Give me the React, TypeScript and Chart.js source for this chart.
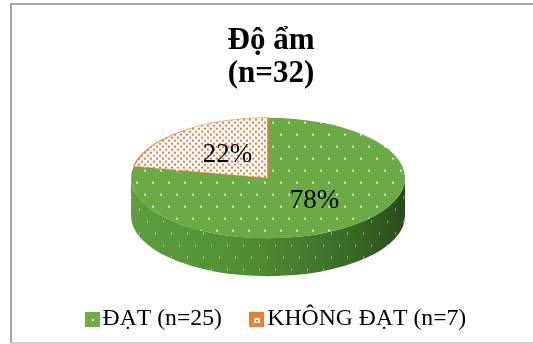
import React, { useEffect, useRef } from 'react';
import { Chart, registerables } from 'chart.js';

Chart.register(...registerables);

// ---- data ----
const titleLines = ['Độ ẩm', '(n=32)'];
const categories = ['ĐẠT (n=25)', 'KHÔNG ĐẠT (n=7)'];
const counts = [25, 7];

// ---- style ----
const FONT = '"Liberation Serif", "Times New Roman", "DejaVu Serif", serif';
const TILT = 0.44; // vertical squash of the pie top face
const DEPTH = 38; // thickness of the 3D wall
const PIE_X = 268;
const PIE_Y = 178;
const RADIUS = 137;
const GREEN = '#6BAA45';
const ORANGE = '#ED7D31';
const legendColors = ['#70AD47', '#ED7D31'];
const LEGEND_BOX = 15;
const LEGEND_BOX_SHIFT = 9; // pulls the swatch close to its text

function makePattern(
  ctx: CanvasRenderingContext2D,
  bg: string,
  dot: string,
  w: number,
  h: number,
  dots: number[][],
  scaleY: number
) {
  const c = document.createElement('canvas');
  c.width = w;
  c.height = h;
  const g = c.getContext('2d')!;
  g.fillStyle = bg;
  g.fillRect(0, 0, w, h);
  g.fillStyle = dot;
  for (const [x, y, dw, dh] of dots) g.fillRect(x, y, dw, dh);
  const p = ctx.createPattern(c, 'repeat')!;
  p.setTransform(new DOMMatrix().scale(1, scaleY));
  return p;
}

const frame = {
  id: 'frame',
  beforeDraw(chart: any) {
    const ctx: CanvasRenderingContext2D = chart.ctx;
    ctx.save();
    ctx.fillStyle = '#a3a3a3';
    ctx.fillRect(10, 3, chart.width - 10, 2);
    ctx.fillRect(10, 3, 2, chart.height - 3);
    ctx.fillStyle = '#cfcfcf';
    ctx.fillRect(10, chart.height - 2, chart.width - 10, 2);
    ctx.restore();
  },
};

const pie3d = {
  id: 'pie3d',
  beforeDatasetsDraw(chart: any) {
    const meta = chart.getDatasetMeta(0);
    const arcs = meta.data;
    const ctx: CanvasRenderingContext2D = chart.ctx;
    ctx.save();
    if (!arcs.length) return;
    const a0 = arcs[0];
    const cx = a0.x;
    const cy = a0.y;
    const rx = a0.outerRadius;
    const ry = rx * TILT;
    // side wall (front half only)
    const grad = ctx.createLinearGradient(PIE_X - rx, 0, PIE_X + rx, 0);
    grad.addColorStop(0, '#5e9e3e');
    grad.addColorStop(0.45, '#508c34');
    grad.addColorStop(0.8, '#3b6a27');
    grad.addColorStop(1, '#2a4a1b');
    const sideFills = [grad, '#c0622a'];
    const wallDots = makePattern(ctx, 'rgba(0,0,0,0)', 'rgba(255,255,255,0.35)', 16, 24, [[3, 4, 1, 3], [11, 16, 1, 3]], 1);
    arcs.forEach((arc: any, i: number) => {
      const s = Math.max(arc.startAngle, 0);
      const e = Math.min(arc.endAngle, Math.PI);
      if (e <= s) return;
      ctx.beginPath();
      ctx.ellipse(PIE_X, PIE_Y, rx, ry, 0, s, e);
      ctx.ellipse(PIE_X, PIE_Y + DEPTH, rx, ry, 0, e, s, true);
      ctx.closePath();
      ctx.fillStyle = sideFills[i % sideFills.length] as any;
      ctx.fill();
      ctx.fillStyle = wallDots;
      ctx.fill();
    });
    // squash the top face
    ctx.translate(PIE_X, PIE_Y);
    ctx.scale(1, TILT);
    ctx.translate(-cx, -cy);
  },
  afterDatasetsDraw(chart: any) {
    const ctx: CanvasRenderingContext2D = chart.ctx;
    ctx.restore();
    const meta = chart.getDatasetMeta(0);
    const arcs = meta.data;
    if (!arcs.length) return;
    const cx = arcs[0].x;
    const cy = arcs[0].y;
    const total = counts.reduce((a, b) => a + b, 0);
    ctx.save();
    ctx.font = `27px ${FONT}`;
    ctx.fillStyle = '#000';
    ctx.textAlign = 'center';
    ctx.textBaseline = 'middle';
    arcs.forEach((arc: any, i: number) => {
      const p = arc.tooltipPosition(false);
      const sx = PIE_X + (p.x - cx) + 3;
      const sy = PIE_Y + (p.y - cy) * TILT;
      ctx.fillText(Math.round((counts[i] / total) * 100) + '%', sx, sy);
    });
    ctx.restore();
  },
  afterDraw(chart: any) {
    const legend = chart.legend;
    if (!legend || !legend.legendHitBoxes) return;
    const ctx: CanvasRenderingContext2D = chart.ctx;
    legend.legendHitBoxes.forEach((hb: any, i: number) => {
      const bx = Math.round(hb.left + LEGEND_BOX_SHIFT);
      const by = Math.round(hb.top + (hb.height - LEGEND_BOX) / 2);
      const x = bx + LEGEND_BOX / 2;
      const y = by + LEGEND_BOX / 2;
      ctx.save();
      ctx.fillStyle = legendColors[i];
      ctx.fillRect(bx, by, LEGEND_BOX, LEGEND_BOX);
      if (i === 0) {
        ctx.fillStyle = 'rgba(255,255,255,0.85)';
        ctx.fillRect(Math.round(x) - 1, Math.round(y) - 1, 2, 2);
      } else {
        ctx.fillStyle = '#fff';
        ctx.fillRect(Math.round(x) - 3, Math.round(y) - 2, 6, 5);
        ctx.fillStyle = ORANGE;
        ctx.fillRect(Math.round(x) - 1, Math.round(y), 2, 2);
      }
      ctx.restore();
    });
  },
};

export default function App() {
  const ref = useRef<HTMLCanvasElement | null>(null);

  useEffect(() => {
    const canvas = ref.current!;
    const ctx = canvas.getContext('2d')!;
    const greenPat = makePattern(ctx, GREEN, 'rgba(255,255,255,0.7)', 16, 24, [[3, 3, 2, 2], [11, 15, 2, 2]], 1 / TILT);
    const orangePat = makePattern(ctx, '#ffffff', '#ec7a36', 6, 6, [[0, 0, 2, 2], [3, 3, 2, 2]], 1 / TILT);

    const chart = new Chart(canvas, {
      type: 'pie',
      data: {
        labels: categories,
        datasets: [
          {
            data: counts,
            backgroundColor: [greenPat, orangePat] as any,
            borderColor: [GREEN, ORANGE],
            borderWidth: [0, 1.5],
            radius: RADIUS,
            clip: false as any,
          },
        ],
      },
      options: {
        responsive: false,
        animation: false,
        events: [],
        layout: { padding: { left: 9, right: 0, top: 0, bottom: 3 } },
        plugins: {
          title: {
            display: true,
            text: titleLines,
            color: '#000',
            font: { family: FONT, size: 31, weight: 'bold', lineHeight: 1.05 },
            padding: { top: 25, bottom: 0 },
          },
          legend: {
            display: true,
            position: 'bottom',
            labels: {
              color: '#000',
              font: { family: FONT, size: 23.7 },
              boxWidth: LEGEND_BOX,
              boxHeight: LEGEND_BOX,
              padding: 18.6,
              generateLabels: () =>
                categories.map((t, i) => ({
                  text: t,
                  fillStyle: 'rgba(0,0,0,0)',
                  strokeStyle: 'rgba(0,0,0,0)',
                  lineWidth: 0,
                  hidden: false,
                  index: i,
                  fontColor: '#000',
                })),
            },
          },
          tooltip: { enabled: false },
        },
      },
      plugins: [frame, pie3d],
    });
    return () => chart.destroy();
  }, []);

  return (
    <div style={{ position: 'fixed', left: 0, top: 0, width: 533, height: 344, overflow: 'hidden', background: '#fff' }}>
      <canvas ref={ref} width={533} height={344} style={{ display: 'block' }} />
    </div>
  );
}
